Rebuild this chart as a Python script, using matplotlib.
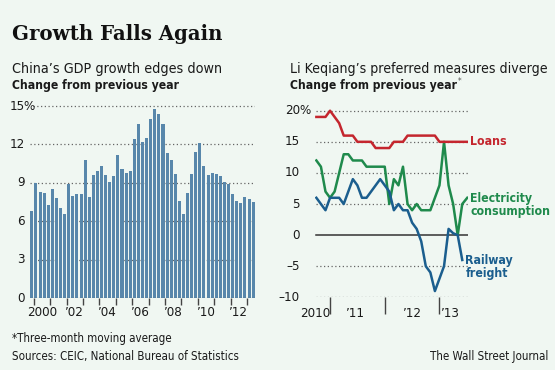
import numpy as np
import matplotlib
matplotlib.use('agg')
import matplotlib.pyplot as plt
from matplotlib import font_manager
from matplotlib.transforms import offset_copy

# China quarterly GDP growth, 1999Q4 - 2013Q2 (%)
gdp = [6.8, 9.0, 8.3, 8.2, 7.3, 8.5, 7.8, 7.0, 6.6, 8.9, 8.0, 8.1, 8.1, 10.8,
       7.9, 9.6, 9.9, 10.3, 9.6, 9.1, 9.5, 11.2, 10.1, 9.8, 9.9, 12.4, 13.6,
       12.2, 12.5, 14.0, 14.8, 14.4, 13.6, 11.3, 10.8, 9.7, 7.6, 6.6, 8.2,
       9.7, 11.4, 12.1, 10.3, 9.6, 9.8, 9.7, 9.5, 9.1, 8.9, 8.1, 7.6, 7.4,
       7.9, 7.7, 7.5]
gdp_years = ["2000", "\u201902", "\u201904", "\u201906", "\u201908", "\u201910", "\u201912"]
gdp_yticks = [0, 3, 6, 9, 12, 15]

# Li Keqiang index components, Oct 2010 - Jun 2013 (% change, 3-mo avg)
loans = [19, 19, 19, 20, 19, 18, 16, 16, 16, 15, 15, 15, 15, 14, 14, 14, 14,
         15, 15, 15, 16, 16, 16, 16, 16, 16, 16, 15, 15, 15, 15, 15, 15]
electricity = [12, 11, 7, 6, 7, 10, 13, 13, 12, 12, 12, 11, 11, 11, 11, 11, 5,
               9, 8, 11, 5, 4, 5, 4, 4, 4, 6, 8, 15, 8, 5, 0, 5]
railway = [6, 5, 4, 6, 6, 6, 5, 7, 9, 8, 6, 6, 7, 8, 9, 8, 7, 4, 5, 4, 4, 2,
           1, -1, -5, -6, -9, -7, -5, 1, 0.3, 0, -4]
li_years = ["2010", "\u201911", "\u201912", "\u201913"]
li_yticks = [-10, -5, 0, 5, 10, 15, 20]

# use a condensed face if one is installed
cond_path = font_manager.findfont(font_manager.FontProperties(family='DejaVu Sans', stretch='condensed'))
cond = 'Condensed' in cond_path
plt.rcParams['font.family'] = 'DejaVu Sans'
if cond:
    plt.rcParams['font.stretch'] = 'condensed'
k = 1.0 if cond else 0.9

bg = '#f0f7f2'
bar_col = '#5887ab'
red = '#c4262e'
green = '#1f8a4c'
blue = '#1b5e8e'
grid_col = '#666666'
txt = '#1a1a1a'

fig = plt.figure(figsize=(5.55, 3.70), dpi=100, facecolor=bg)

fig.text(12/555, 0.893, "Growth Falls Again", family='DejaVu Serif',
         weight='bold', size=14.2, color='#111111', stretch='normal')
fig.text(12/555, 0.804, "China\u2019s GDP growth edges down", size=10.3*k, color=txt)
fig.text(12/555, 0.759, "Change from previous year", size=8.7*k, weight='bold', color=txt)
fig.text(290/555, 0.804, "Li Keqiang\u2019s preferred measures diverge", size=10.1*k, color=txt)
sub2 = fig.text(290/555, 0.759, "Change from previous year", size=8.7*k,
                weight='bold', color=txt)
fig.text(12/555, 0.0746, "*Three-month moving average", size=8.3*k, color=txt)
fig.text(12/555, 0.027, "Sources: CEIC, National Bureau of Statistics", size=8.3*k, color=txt)
fig.text(548/555, 0.027, "The Wall Street Journal", size=8.3*k, ha='right', color=txt)

# ---- left: GDP bars
ax1 = fig.add_axes([30/555, (370-298)/370, 225/555, (298-99.6)/370])
ax1.set_facecolor(bg)
x = np.arange(len(gdp))
for v in gdp_yticks[1:]:
    xs = 0.35 if v == 15 else -0.45
    ax1.plot([xs, len(gdp) - 0.55], [v, v], ls=(0, (1, 2)), lw=0.9,
             color=grid_col, zorder=1)
ax1.bar(x, gdp, width=0.74, color=bar_col, zorder=2)
ax1.set_xlim(-0.45, len(gdp) - 0.55)
ax1.set_ylim(0, 15.5)
for s in ax1.spines.values():
    s.set_visible(False)
ax1.axhline(0, color='#555555', lw=0.8, zorder=3)
ax1.set_yticks([])
tr1 = offset_copy(ax1.get_yaxis_transform(), fig=fig, x=-5, y=0, units='dots')
tr1p = offset_copy(ax1.get_yaxis_transform(), fig=fig, x=-6.5, y=0, units='dots')
for v in gdp_yticks:
    ax1.text(0, v, str(v), transform=tr1, ha='right', va='center',
             size=9.5*k, color=txt)
    if v == 15:
        ax1.text(0, v, '%', transform=tr1p, ha='left', va='center',
                 size=9.5*k, color=txt)
ax1.set_xticks([0.5 + 4*j for j in range(14)])
ax1.set_xticklabels([])
ax1.tick_params(axis='x', which='major', length=5, width=1, color='#444444')
ax1.set_xticks([2.5 + 8*j for j in range(len(gdp_years))], minor=True)
ax1.set_xticklabels(gdp_years, minor=True, size=9.5*k, color=txt)
ax1.tick_params(axis='x', which='minor', length=0, pad=6)

# ---- right: Li Keqiang index lines
ax2 = fig.add_axes([315/555, (370-297.3)/370, 153/555, (297.3-104.5)/370])
ax2.set_facecolor(bg)
n = len(loans)
m = np.arange(n)
xmax = n + 0.26
for v in li_yticks:
    if v == 0:
        ax2.plot([0, xmax], [0, 0], color='#333333', lw=1.1, zorder=1)
    else:
        ax2.plot([0, xmax], [v, v], ls=(0, (1, 2)), lw=0.9, color=grid_col,
                 zorder=1)
ax2.plot(list(m) + [xmax], loans + [loans[-1]], color=red, lw=1.8, zorder=3)
ax2.plot(list(m) + [n + 0.1], electricity + [electricity[-1] + 1], color=green,
         lw=1.8, zorder=2)
ax2.plot(m, railway, color=blue, lw=1.8, zorder=4)
ax2.set_xlim(0, xmax)
ax2.set_ylim(-10, 21)
for s in ax2.spines.values():
    s.set_visible(False)
ax2.set_yticks([])
tr2 = offset_copy(ax2.get_yaxis_transform(), fig=fig, x=-15, y=0, units='dots')
tr2p = offset_copy(ax2.get_yaxis_transform(), fig=fig, x=-16, y=0, units='dots')
for v in li_yticks:
    lab = '\u2013' + str(-v) if v < 0 else str(v)
    ax2.text(0, v, lab, transform=tr2, ha='right', va='center',
             size=9.5*k, color=txt)
    if v == 20:
        ax2.text(0, v, '%', transform=tr2p, ha='left', va='center',
                 size=9.5*k, color=txt)
ax2.set_xticks([3, 15, 27])
ax2.set_xticklabels([])
ax2.tick_params(axis='x', which='major', length=12, width=1, color='#444444')
ax2.set_xticks([-0.3, 8.6, 21, 29.5], minor=True)
ax2.set_xticklabels(li_years, minor=True, size=9.5*k, color=txt)
ax2.tick_params(axis='x', which='minor', length=0, pad=7)

ax2.text(n + 0.7, loans[-1], "Loans", color=red, weight='bold', size=8.8*k,
         va='center', clip_on=False)
ax2.text(n + 0.7, electricity[-1] - 0.2, "Electricity\nconsumption", color=green,
         weight='bold', size=8.8*k, va='center', linespacing=1.0, clip_on=False)
ax2.text(n - 0.3, railway[-1] - 1.1, "Railway\nfreight", color=blue,
         weight='bold', size=8.8*k, va='center', linespacing=1.0, clip_on=False)

# small asterisk after the right subtitle
fig.canvas.draw()
bb = sub2.get_window_extent()
fig.text((bb.x1 + 1) / fig.bbox.width, (bb.y1 - 5) / fig.bbox.height, "*",
         size=6, color='#555555')

fig.savefig('out.png', dpi=100, facecolor=bg)
